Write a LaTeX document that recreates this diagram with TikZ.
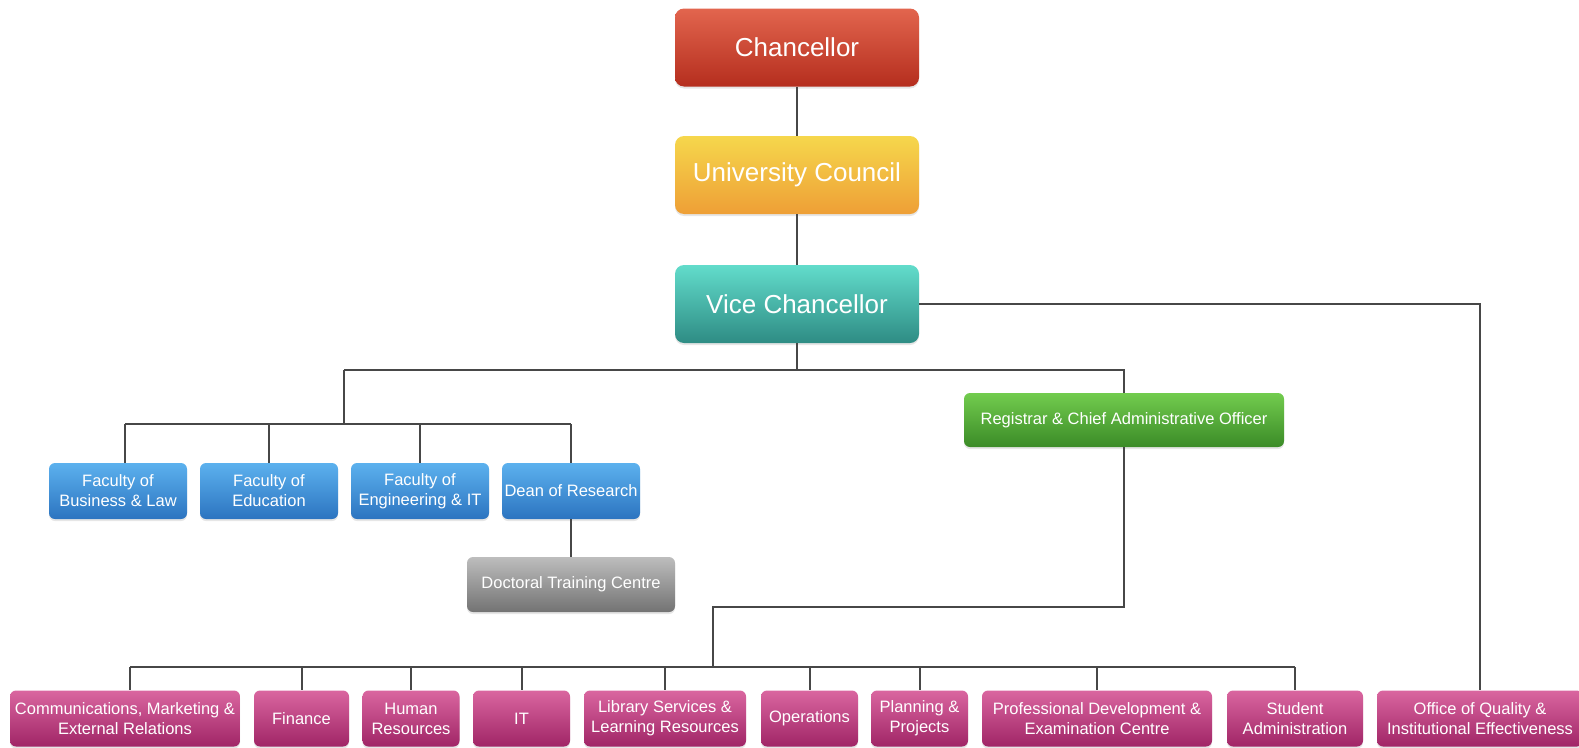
\documentclass[tikz,border=0pt]{standalone}
\usepackage{fontspec}
\setmainfont{Liberation Sans}
\usetikzlibrary{shadows}
\definecolor{redtop}{HTML}{E2654E}\definecolor{redbot}{HTML}{B52E1E}
\definecolor{yeltop}{HTML}{F6D74C}\definecolor{yelbot}{HTML}{EE9F36}
\definecolor{teatop}{HTML}{62DCCB}\definecolor{teabot}{HTML}{2E8C84}
\definecolor{blutop}{HTML}{5CB1EE}\definecolor{blubot}{HTML}{2C74C0}
\definecolor{grytop}{HTML}{BDBDBD}\definecolor{grybot}{HTML}{737373}
\definecolor{grntop}{HTML}{72CC4E}\definecolor{grnbot}{HTML}{3B8B27}
\definecolor{magtop}{HTML}{DA66A0}\definecolor{magbot}{HTML}{A02566}
\definecolor{linec}{HTML}{474747}
\tikzset{
  box/.style={rectangle, inner sep=0pt, text=white, align=center,
    drop shadow={opacity=0.2, shadow xshift=0pt, shadow yshift=-2pt}},
  bigbox/.style={box, rounded corners=9pt, minimum width=244pt, minimum height=78pt,
    font=\fontsize{26}{30}\selectfont},
  smallbox/.style={box, rounded corners=6pt, minimum height=56pt,
    font=\fontsize{16.5}{20}\selectfont},
  redbox/.style={bigbox, top color=redtop, bottom color=redbot},
  yelbox/.style={bigbox, top color=yeltop, bottom color=yelbot},
  teabox/.style={bigbox, top color=teatop, bottom color=teabot},
  blubox/.style={smallbox, minimum width=138pt, top color=blutop, bottom color=blubot},
  grybox/.style={smallbox, minimum width=208pt, minimum height=55pt, top color=grytop, bottom color=grybot},
  grnbox/.style={smallbox, minimum width=320pt, minimum height=54pt, top color=grntop, bottom color=grnbot},
  magbox/.style={smallbox, top color=magtop, bottom color=magbot},
  conn/.style={draw=linec, line width=2pt}
}
\begin{document}
\begin{tikzpicture}[x=1pt,y=-1pt]
\useasboundingbox (0,0) rectangle (1579,747);
% top chain
\node[redbox] (chan) at (797,47.5) {Chancellor};
\node[yelbox] (uc) at (797,175) {University Council};
\node[teabox] (vc) at (797,304) {Vice Chancellor};
% academic
\node[blubox] (fbl) at (118,491) {Faculty of\\Business \& Law};
\node[blubox] (fed) at (269,491) {Faculty of\\Education};
\node[blubox] (fen) at (420,491) {Faculty of\\Engineering \& IT};
\node[blubox] (dean) at (571,491) {Dean of Research};
\node[grybox] (dtc) at (571,584.5) {Doctoral Training Centre};
% registrar
\node[grnbox] (reg) at (1124,420) {Registrar \& Chief Administrative Officer};
% admin
\node[magbox, minimum width=230pt] (cm) at (125,718.5) {Communications, Marketing \&\\External Relations};
\node[magbox, minimum width=95pt] (fin) at (301.5,718.5) {Finance};
\node[magbox, minimum width=97pt] (hr) at (411,718.5) {Human\\Resources};
\node[magbox, minimum width=97pt] (it) at (521.5,718.5) {IT};
\node[magbox, minimum width=162pt] (lib) at (665,718.5) {Library Services \&\\Learning Resources};
\node[magbox, minimum width=97pt] (ops) at (809.5,718.5) {Operations};
\node[magbox, minimum width=97pt] (pp) at (919.5,718.5) {Planning \&\\Projects};
\node[magbox, minimum width=230pt] (pd) at (1097,718.5) {Professional Development \&\\Examination Centre};
\node[magbox, minimum width=136pt] (sa) at (1295,718.5) {Student\\Administration};
\node[magbox, minimum width=206pt] (oq) at (1480,718.5) {Office of Quality \&\\Institutional Effectiveness};
% junction coordinates
\coordinate (j1) at (797,370);
\coordinate (acad) at (344,370);
\coordinate (fbus) at (344,424);
\coordinate (r1) at (1124,607);
\coordinate (r2) at (713,607);
\coordinate (abus) at (713,667);
% connectors
\draw[conn] (chan) -- (uc);
\draw[conn] (uc) -- (vc);
\draw[conn] (vc.east) -| (oq.north);
\draw[conn] (vc.south) -- (j1);
\draw[conn] (acad) -- (j1) -| (reg.north);
\draw[conn] (acad) -- (fbus);
\draw[conn] ([xshift=7pt]fbl.north |- fbus) -- (dean.north |- fbus);
\draw[conn] ([xshift=7pt]fbl.north |- fbus) -- ([xshift=7pt]fbl.north);
\foreach \n in {fed,fen,dean} \draw[conn] (\n.north |- fbus) -- (\n.north);
\draw[conn] (dean) -- (dtc);
\draw[conn] (reg.south) -- (r1) -- (r2) -- (abus);
\draw[conn] ([xshift=5pt]cm.north |- abus) -- (sa.north |- abus);
\draw[conn] ([xshift=5pt]cm.north |- abus) -- ([xshift=5pt]cm.north);
\foreach \n in {fin,hr,it,lib,ops,pp,pd,sa} \draw[conn] (\n.north |- abus) -- (\n.north);
\end{tikzpicture}
\end{document}
